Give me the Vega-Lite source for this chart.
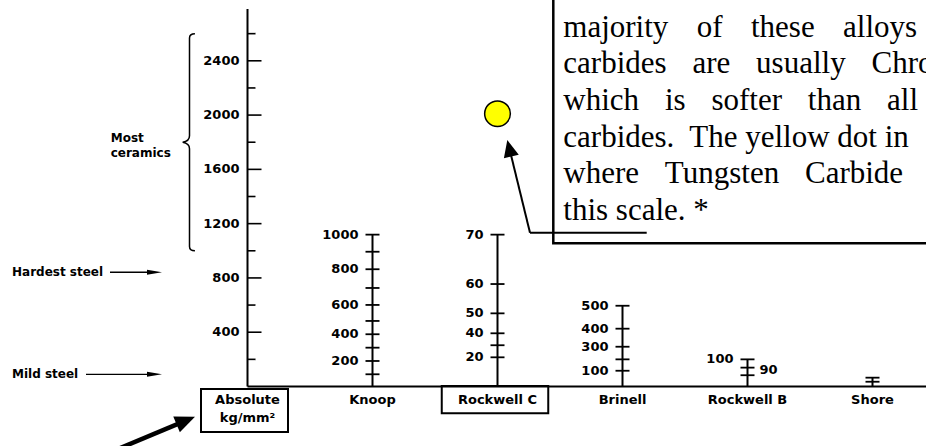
{
  "$schema": "https://vega.github.io/schema/vega-lite/v6.json",
  "width": 926,
  "height": 446,
  "autosize": "none",
  "padding": 0,
  "background": "white",
  "config": {"view": {"stroke": null}},
  "datasets": {
    "scales": [
      {"scale": "Absolute", "col": 0, "base": 0, "top": 2782, "caption": "Absolute\nkg/mm²", "captionAt": -132.6},
      {"scale": "Knoop", "col": 1, "base": 0, "top": 1119, "caption": "Knoop", "captionAt": -132.6},
      {"scale": "Rockwell C", "col": 2, "base": 0, "top": 1119, "caption": "Rockwell C", "captionAt": -132.6},
      {"scale": "Brinell", "col": 3, "base": 0, "top": 595, "caption": "Brinell", "captionAt": -132.6},
      {"scale": "Rockwell B", "col": 4, "base": 0, "top": 200, "caption": "Rockwell B", "captionAt": -132.6},
      {"scale": "Shore", "col": 5, "base": 0, "top": 65, "caption": "Shore", "captionAt": -132.6}
    ],
    "ticks": [
      {"scale": "Absolute", "col": 0, "value": 200, "abs": 200, "major": false, "label": "", "side": "left"},
      {"scale": "Absolute", "col": 0, "value": 400, "abs": 400, "major": true, "label": "400", "side": "left"},
      {"scale": "Absolute", "col": 0, "value": 600, "abs": 600, "major": false, "label": "", "side": "left"},
      {"scale": "Absolute", "col": 0, "value": 800, "abs": 800, "major": true, "label": "800", "side": "left"},
      {"scale": "Absolute", "col": 0, "value": 1000, "abs": 1000, "major": false, "label": "", "side": "left"},
      {"scale": "Absolute", "col": 0, "value": 1200, "abs": 1200, "major": true, "label": "1200", "side": "left"},
      {"scale": "Absolute", "col": 0, "value": 1400, "abs": 1400, "major": false, "label": "", "side": "left"},
      {"scale": "Absolute", "col": 0, "value": 1600, "abs": 1600, "major": true, "label": "1600", "side": "left"},
      {"scale": "Absolute", "col": 0, "value": 1800, "abs": 1800, "major": false, "label": "", "side": "left"},
      {"scale": "Absolute", "col": 0, "value": 2000, "abs": 2000, "major": true, "label": "2000", "side": "left"},
      {"scale": "Absolute", "col": 0, "value": 2200, "abs": 2200, "major": false, "label": "", "side": "left"},
      {"scale": "Absolute", "col": 0, "value": 2400, "abs": 2400, "major": true, "label": "2400", "side": "left"},
      {"scale": "Absolute", "col": 0, "value": 2600, "abs": 2600, "major": false, "label": "", "side": "left"},
      {"scale": "Knoop", "col": 1, "value": 1000, "abs": 1119, "major": true, "label": "1000", "side": "left"},
      {"scale": "Knoop", "col": 1, "value": 900, "abs": 993, "major": false, "label": "", "side": "left"},
      {"scale": "Knoop", "col": 1, "value": 800, "abs": 864, "major": true, "label": "800", "side": "left"},
      {"scale": "Knoop", "col": 1, "value": 700, "abs": 726, "major": false, "label": "", "side": "left"},
      {"scale": "Knoop", "col": 1, "value": 600, "abs": 601, "major": true, "label": "600", "side": "left"},
      {"scale": "Knoop", "col": 1, "value": 500, "abs": 483, "major": false, "label": "", "side": "left"},
      {"scale": "Knoop", "col": 1, "value": 400, "abs": 385, "major": true, "label": "400", "side": "left"},
      {"scale": "Knoop", "col": 1, "value": 300, "abs": 286, "major": false, "label": "", "side": "left"},
      {"scale": "Knoop", "col": 1, "value": 200, "abs": 188, "major": true, "label": "200", "side": "left"},
      {"scale": "Knoop", "col": 1, "value": 100, "abs": 90, "major": false, "label": "", "side": "left"},
      {"scale": "Rockwell C", "col": 2, "value": 70, "abs": 1119, "major": true, "label": "70", "side": "left"},
      {"scale": "Rockwell C", "col": 2, "value": 60, "abs": 755, "major": true, "label": "60", "side": "left"},
      {"scale": "Rockwell C", "col": 2, "value": 50, "abs": 539, "major": true, "label": "50", "side": "left"},
      {"scale": "Rockwell C", "col": 2, "value": 40, "abs": 392, "major": true, "label": "40", "side": "left"},
      {"scale": "Rockwell C", "col": 2, "value": 30, "abs": 304, "major": false, "label": "", "side": "left"},
      {"scale": "Rockwell C", "col": 2, "value": 20, "abs": 215, "major": true, "label": "20", "side": "left"},
      {"scale": "Brinell", "col": 3, "value": 500, "abs": 595, "major": true, "label": "500", "side": "left"},
      {"scale": "Brinell", "col": 3, "value": 400, "abs": 426, "major": true, "label": "400", "side": "left"},
      {"scale": "Brinell", "col": 3, "value": 300, "abs": 293, "major": true, "label": "300", "side": "left"},
      {"scale": "Brinell", "col": 3, "value": 200, "abs": 200, "major": false, "label": "", "side": "left"},
      {"scale": "Brinell", "col": 3, "value": 100, "abs": 116, "major": true, "label": "100", "side": "left"},
      {"scale": "Rockwell B", "col": 4, "value": 100, "abs": 200, "major": true, "label": "100", "side": "left"},
      {"scale": "Rockwell B", "col": 4, "value": 90, "abs": 139, "major": true, "label": "90", "side": "right"},
      {"scale": "Rockwell B", "col": 4, "value": 80, "abs": 83, "major": false, "label": "", "side": "left"},
      {"scale": "Shore", "col": 5, "value": 100, "abs": 65, "major": false, "label": "", "side": "left"},
      {"scale": "Shore", "col": 5, "value": 80, "abs": 35, "major": false, "label": "", "side": "left"}
    ],
    "levels": [
      {"name": "Hardest steel", "abs": 842, "labelAt": -1.884, "from": -1.1, "to": -0.75, "tip": -0.684},
      {"name": "Mild steel", "abs": 90, "labelAt": -1.884, "from": -1.292, "to": -0.75, "tip": -0.684}
    ],
    "ranges": [
      {"name": "Most\nceramics", "low": 1000, "high": 2600, "mid": 1800, "braceAt": -0.464, "labelAt": -1.0944}
    ],
    "materials": [
      {"material": "Tungsten Carbide", "scale": "Rockwell C", "col": 2, "abs": 2010}
    ],
    "boxes": [
      {"box": "Absolute", "x": -0.372, "x2": 0.324, "y": -18.4, "y2": -335},
      {"box": "Rockwell C", "x": 1.554, "x2": 2.406, "y": 3, "y2": -197.5}
    ],
    "note": [
      {"part": "frame", "x": 2.4464, "x2": 6, "y": 1055.3, "y2": 3100, "text": ""},
      {"part": "text", "x": 2.5264, "x2": 2.5264, "y": 2578, "y2": 2578, "text": "majority\u2002\u2005\u2006of\u2002\u2005\u2006these\u2002\u2005\u2006alloys\ncarbides\u2002\u2004are\u2002\u2004usually\u2002\u2004Chro\nwhich\u2002\u2004is\u2002\u2004softer\u2002\u2004than\u2002\u2004all\ncarbides.\u00a0 The yellow dot in\nwhere\u2002\u2004Tungsten\u2002\u2004Carbide\nthis scale. *"}
    ],
    "arrows": [
      {"arrow": "callout", "x": 3.1936, "y": 1133.4, "x2": 2.26, "y2": 1133.4},
      {"arrow": "callout", "x": 2.26, "y": 1133.4, "x2": 2.1016, "y2": 1730.3},
      {"arrow": "pointer", "x": -1.18, "y": -516, "x2": -0.4936, "y2": -251.3}
    ],
    "heads": [
      {"arrow": "callout", "x": 2.0784, "y": 1816.5},
      {"arrow": "pointer", "x": -0.42, "y": -222.5}
    ]
  },
  "layer": [
    {
      "data": {"name": "scales"},
      "mark": {"type": "rule", "color": "black", "strokeWidth": 2},
      "encoding": {
        "x": {"field": "col", "type": "quantitative", "scale": {"domain": [-1.98, 5.428], "nice": false, "zero": false}, "axis": null},
        "y": {"field": "base", "type": "quantitative", "scale": {"domain": [-438.5, 2848], "nice": false, "zero": false}, "axis": null},
        "y2": {"field": "top"}
      }
    },
    {
      "data": {"name": "scales"},
      "transform": [{"filter": "datum.scale === 'Absolute'"}],
      "mark": {"type": "rule", "color": "black", "strokeWidth": 1.8},
      "encoding": {
        "x": {"field": "col", "type": "quantitative", "scale": {"domain": [-1.98, 5.428], "nice": false, "zero": false}, "axis": null},
        "x2": {"value": 926},
        "y": {"field": "base", "type": "quantitative", "scale": {"domain": [-438.5, 2848], "nice": false, "zero": false}, "axis": null}
      }
    },
    {
      "data": {"name": "ticks"},
      "transform": [{"filter": "datum.scale === 'Absolute' && datum.major"}],
      "mark": {"type": "tick", "orient": "horizontal", "size": 14, "thickness": 1.6, "xOffset": 7, "color": "black", "opacity": 1},
      "encoding": {
        "x": {"field": "col", "type": "quantitative", "scale": {"domain": [-1.98, 5.428], "nice": false, "zero": false}, "axis": null},
        "y": {"field": "abs", "type": "quantitative", "scale": {"domain": [-438.5, 2848], "nice": false, "zero": false}, "axis": null}
      }
    },
    {
      "data": {"name": "ticks"},
      "transform": [{"filter": "datum.scale === 'Absolute' && !datum.major"}],
      "mark": {"type": "tick", "orient": "horizontal", "size": 8, "thickness": 1.6, "xOffset": 4, "color": "black", "opacity": 1},
      "encoding": {
        "x": {"field": "col", "type": "quantitative", "scale": {"domain": [-1.98, 5.428], "nice": false, "zero": false}, "axis": null},
        "y": {"field": "abs", "type": "quantitative", "scale": {"domain": [-438.5, 2848], "nice": false, "zero": false}, "axis": null}
      }
    },
    {
      "data": {"name": "ticks"},
      "transform": [{"filter": "datum.scale !== 'Absolute'"}],
      "mark": {"type": "tick", "orient": "horizontal", "size": 14, "thickness": 1.8, "color": "black", "opacity": 1},
      "encoding": {
        "x": {"field": "col", "type": "quantitative", "scale": {"domain": [-1.98, 5.428], "nice": false, "zero": false}, "axis": null},
        "y": {"field": "abs", "type": "quantitative", "scale": {"domain": [-438.5, 2848], "nice": false, "zero": false}, "axis": null}
      }
    },
    {
      "data": {"name": "ticks"},
      "transform": [{"filter": "datum.label !== '' && datum.side === 'left' && datum.scale !== 'Absolute'"}],
      "mark": {"type": "text", "align": "right", "baseline": "middle", "dx": -14, "font": "DejaVu Sans", "fontWeight": "bold", "fontSize": 13, "color": "black"},
      "encoding": {
        "x": {"field": "col", "type": "quantitative", "scale": {"domain": [-1.98, 5.428], "nice": false, "zero": false}, "axis": null},
        "y": {"field": "abs", "type": "quantitative", "scale": {"domain": [-438.5, 2848], "nice": false, "zero": false}, "axis": null},
        "text": {"field": "label"}
      }
    },
    {
      "data": {"name": "ticks"},
      "transform": [{"filter": "datum.label !== '' && datum.scale === 'Absolute'"}],
      "mark": {"type": "text", "align": "right", "baseline": "middle", "dx": -8, "font": "DejaVu Sans", "fontWeight": "bold", "fontSize": 13, "color": "black"},
      "encoding": {
        "x": {"field": "col", "type": "quantitative", "scale": {"domain": [-1.98, 5.428], "nice": false, "zero": false}, "axis": null},
        "y": {"field": "abs", "type": "quantitative", "scale": {"domain": [-438.5, 2848], "nice": false, "zero": false}, "axis": null},
        "text": {"field": "label"}
      }
    },
    {
      "data": {"name": "ticks"},
      "transform": [{"filter": "datum.label !== '' && datum.side === 'right'"}],
      "mark": {"type": "text", "align": "left", "baseline": "middle", "dx": 12, "dy": 2, "font": "DejaVu Sans", "fontWeight": "bold", "fontSize": 13, "color": "black"},
      "encoding": {
        "x": {"field": "col", "type": "quantitative", "scale": {"domain": [-1.98, 5.428], "nice": false, "zero": false}, "axis": null},
        "y": {"field": "abs", "type": "quantitative", "scale": {"domain": [-438.5, 2848], "nice": false, "zero": false}, "axis": null},
        "text": {"field": "label"}
      }
    },
    {
      "data": {"name": "scales"},
      "mark": {"type": "text", "align": "center", "baseline": "alphabetic", "lineBreak": "\n", "lineHeight": 17.5, "font": "DejaVu Sans", "fontWeight": "bold", "fontSize": 13, "color": "black"},
      "encoding": {
        "x": {"field": "col", "type": "quantitative", "scale": {"domain": [-1.98, 5.428], "nice": false, "zero": false}, "axis": null},
        "y": {"field": "captionAt", "type": "quantitative", "scale": {"domain": [-438.5, 2848], "nice": false, "zero": false}, "axis": null},
        "text": {"field": "caption"}
      }
    },
    {
      "data": {"name": "boxes"},
      "mark": {"type": "rect", "filled": false, "stroke": "black", "strokeWidth": 2},
      "encoding": {
        "x": {"field": "x", "type": "quantitative", "scale": {"domain": [-1.98, 5.428], "nice": false, "zero": false}, "axis": null},
        "x2": {"field": "x2"},
        "y": {"field": "y", "type": "quantitative", "scale": {"domain": [-438.5, 2848], "nice": false, "zero": false}, "axis": null},
        "y2": {"field": "y2"}
      }
    },
    {
      "data": {"name": "note"},
      "transform": [{"filter": "datum.part === 'frame'"}],
      "mark": {"type": "rect", "filled": false, "stroke": "black", "strokeWidth": 2.5},
      "encoding": {
        "x": {"field": "x", "type": "quantitative", "scale": {"domain": [-1.98, 5.428], "nice": false, "zero": false}, "axis": null},
        "x2": {"field": "x2"},
        "y": {"field": "y", "type": "quantitative", "scale": {"domain": [-438.5, 2848], "nice": false, "zero": false}, "axis": null},
        "y2": {"field": "y2"}
      }
    },
    {
      "data": {"name": "note"},
      "transform": [{"filter": "datum.part === 'text'"}],
      "mark": {"type": "text", "align": "left", "baseline": "alphabetic", "lineBreak": "\n", "lineHeight": 36.7, "font": "Liberation Serif", "fontSize": 31, "color": "black"},
      "encoding": {
        "x": {"field": "x", "type": "quantitative", "scale": {"domain": [-1.98, 5.428], "nice": false, "zero": false}, "axis": null},
        "y": {"field": "y", "type": "quantitative", "scale": {"domain": [-438.5, 2848], "nice": false, "zero": false}, "axis": null},
        "text": {"field": "text"}
      }
    },
    {
      "data": {"name": "arrows"},
      "transform": [{"filter": "datum.arrow === 'callout'"}],
      "mark": {"type": "rule", "color": "black", "strokeWidth": 2},
      "encoding": {
        "x": {"field": "x", "type": "quantitative", "scale": {"domain": [-1.98, 5.428], "nice": false, "zero": false}, "axis": null},
        "x2": {"field": "x2"},
        "y": {"field": "y", "type": "quantitative", "scale": {"domain": [-438.5, 2848], "nice": false, "zero": false}, "axis": null},
        "y2": {"field": "y2"}
      }
    },
    {
      "data": {"name": "arrows"},
      "transform": [{"filter": "datum.arrow === 'pointer'"}],
      "mark": {"type": "rule", "color": "black", "strokeWidth": 4.5},
      "encoding": {
        "x": {"field": "x", "type": "quantitative", "scale": {"domain": [-1.98, 5.428], "nice": false, "zero": false}, "axis": null},
        "x2": {"field": "x2"},
        "y": {"field": "y", "type": "quantitative", "scale": {"domain": [-438.5, 2848], "nice": false, "zero": false}, "axis": null},
        "y2": {"field": "y2"}
      }
    },
    {
      "data": {"name": "heads"},
      "transform": [{"filter": "datum.arrow === 'callout'"}],
      "mark": {"type": "point", "shape": "M0,0L-2,-0.9L-2,0.9Z", "size": 289, "angle": 256.24, "filled": true, "color": "black", "strokeWidth": 0, "opacity": 1},
      "encoding": {
        "x": {"field": "x", "type": "quantitative", "scale": {"domain": [-1.98, 5.428], "nice": false, "zero": false}, "axis": null},
        "y": {"field": "y", "type": "quantitative", "scale": {"domain": [-438.5, 2848], "nice": false, "zero": false}, "axis": null}
      }
    },
    {
      "data": {"name": "heads"},
      "transform": [{"filter": "datum.arrow === 'pointer'"}],
      "mark": {"type": "point", "shape": "M0,0L-2,-0.85L-2,0.85Z", "size": 400, "angle": 337.3, "filled": true, "color": "black", "strokeWidth": 0, "opacity": 1},
      "encoding": {
        "x": {"field": "x", "type": "quantitative", "scale": {"domain": [-1.98, 5.428], "nice": false, "zero": false}, "axis": null},
        "y": {"field": "y", "type": "quantitative", "scale": {"domain": [-438.5, 2848], "nice": false, "zero": false}, "axis": null}
      }
    },
    {
      "data": {"name": "materials"},
      "mark": {"type": "point", "shape": "circle", "size": 660, "filled": true, "fill": "#ffff00", "stroke": "black", "strokeWidth": 1.5, "opacity": 1},
      "encoding": {
        "x": {"field": "col", "type": "quantitative", "scale": {"domain": [-1.98, 5.428], "nice": false, "zero": false}, "axis": null},
        "y": {"field": "abs", "type": "quantitative", "scale": {"domain": [-438.5, 2848], "nice": false, "zero": false}, "axis": null}
      }
    },
    {
      "data": {"name": "levels"},
      "mark": {"type": "text", "align": "left", "baseline": "middle", "font": "DejaVu Sans", "fontWeight": "bold", "fontSize": 12, "color": "black"},
      "encoding": {
        "x": {"field": "labelAt", "type": "quantitative", "scale": {"domain": [-1.98, 5.428], "nice": false, "zero": false}, "axis": null},
        "y": {"field": "abs", "type": "quantitative", "scale": {"domain": [-438.5, 2848], "nice": false, "zero": false}, "axis": null},
        "text": {"field": "name"}
      }
    },
    {
      "data": {"name": "levels"},
      "mark": {"type": "rule", "color": "black", "strokeWidth": 1.3},
      "encoding": {
        "x": {"field": "from", "type": "quantitative", "scale": {"domain": [-1.98, 5.428], "nice": false, "zero": false}, "axis": null},
        "x2": {"field": "to"},
        "y": {"field": "abs", "type": "quantitative", "scale": {"domain": [-438.5, 2848], "nice": false, "zero": false}, "axis": null}
      }
    },
    {
      "data": {"name": "levels"},
      "mark": {"type": "point", "shape": "M0,0L-2,-0.33L-2,0.33Z", "size": 225, "filled": true, "color": "black", "strokeWidth": 0, "opacity": 1},
      "encoding": {
        "x": {"field": "tip", "type": "quantitative", "scale": {"domain": [-1.98, 5.428], "nice": false, "zero": false}, "axis": null},
        "y": {"field": "abs", "type": "quantitative", "scale": {"domain": [-438.5, 2848], "nice": false, "zero": false}, "axis": null}
      }
    },
    {
      "data": {"name": "ranges"},
      "mark": {"type": "point", "shape": "M0.05,-1Q0,-1 0,-0.96L0,-0.06Q0,-0.01 -0.063,0Q0,0.01 0,0.06L0,0.96Q0,1 0.05,1", "size": 47089, "filled": false, "stroke": "black", "strokeWidth": 1.5, "opacity": 1},
      "encoding": {
        "x": {"field": "braceAt", "type": "quantitative", "scale": {"domain": [-1.98, 5.428], "nice": false, "zero": false}, "axis": null},
        "y": {"field": "mid", "type": "quantitative", "scale": {"domain": [-438.5, 2848], "nice": false, "zero": false}, "axis": null}
      }
    },
    {
      "data": {"name": "ranges"},
      "mark": {"type": "text", "align": "left", "baseline": "alphabetic", "lineBreak": "\n", "lineHeight": 15, "font": "DejaVu Sans", "fontWeight": "bold", "fontSize": 12, "color": "black"},
      "encoding": {
        "x": {"field": "labelAt", "type": "quantitative", "scale": {"domain": [-1.98, 5.428], "nice": false, "zero": false}, "axis": null},
        "y": {"field": "mid", "type": "quantitative", "scale": {"domain": [-438.5, 2848], "nice": false, "zero": false}, "axis": null},
        "text": {"field": "name"}
      }
    }
  ]
}
